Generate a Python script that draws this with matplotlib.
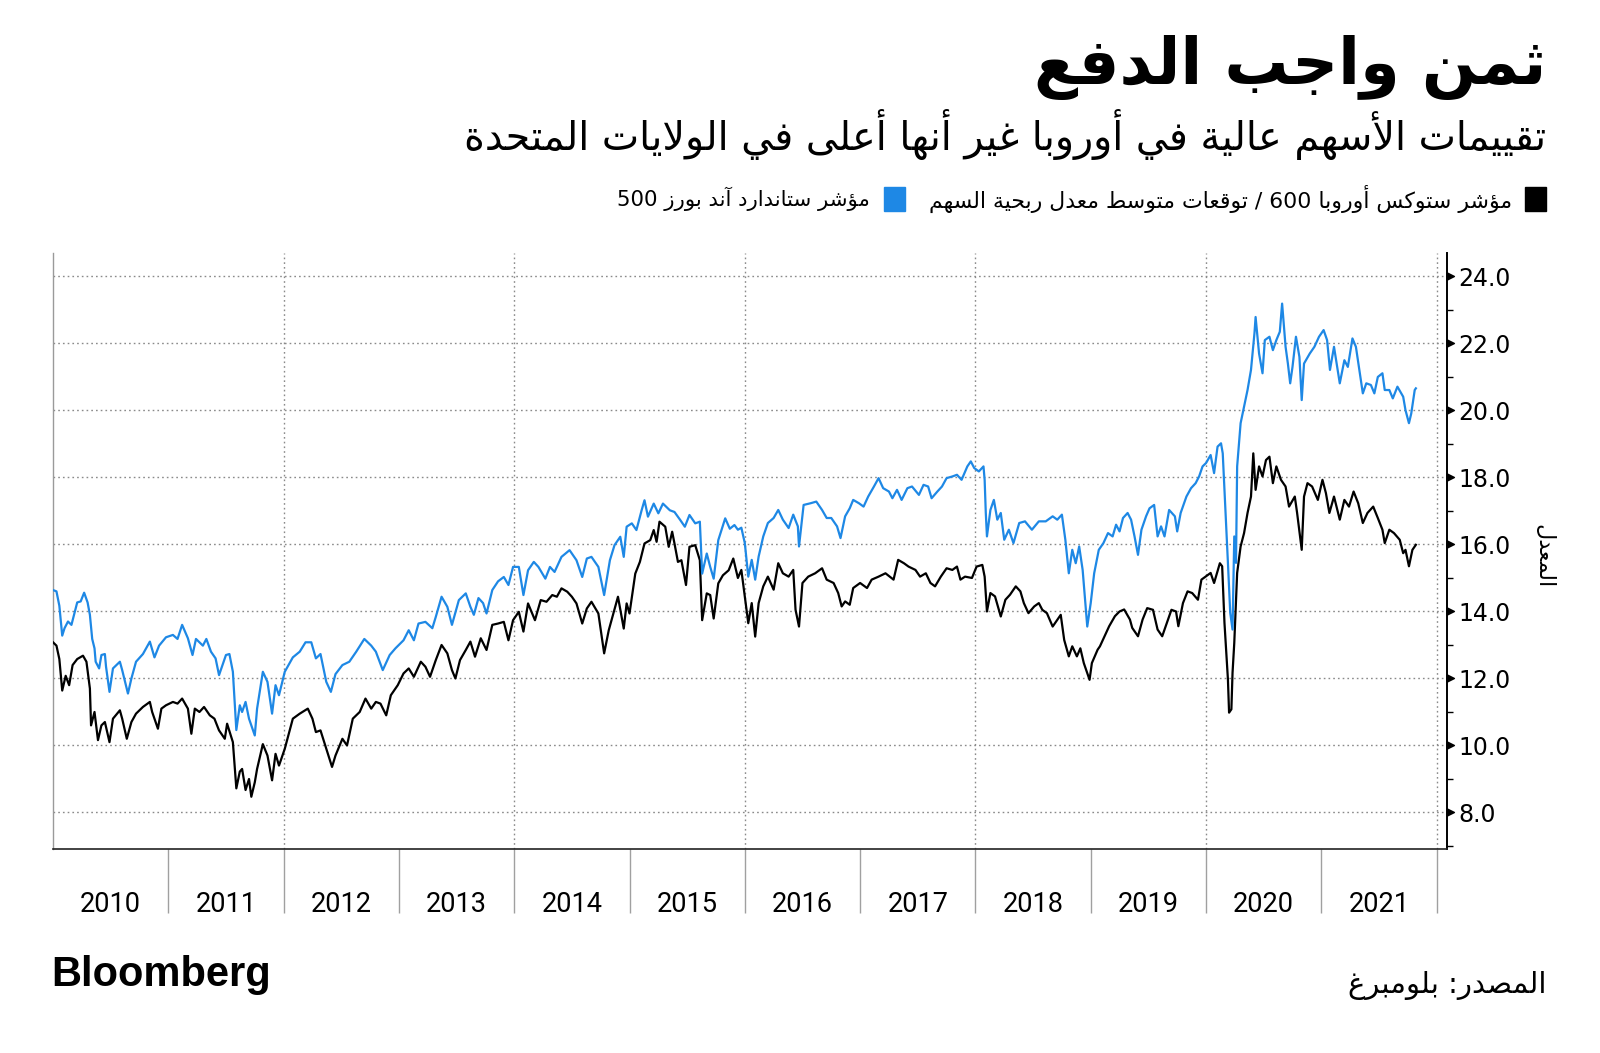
import re
import matplotlib
matplotlib.use("Agg")
import matplotlib.pyplot as plt
from matplotlib import font_manager
from matplotlib.patches import Rectangle
from matplotlib.path import Path
from matplotlib.ticker import MultipleLocator

# ---- data ----
spx_years = [
    2010.00, 2010.03, 2010.055, 2010.08, 2010.10, 2010.13, 2010.16, 2010.19, 2010.21, 2010.24,
    2010.27, 2010.30, 2010.32, 2010.34, 2010.36, 2010.37, 2010.40, 2010.42, 2010.45, 2010.46,
    2010.49, 2010.52, 2010.55, 2010.58, 2010.60, 2010.65, 2010.68, 2010.72, 2010.78, 2010.84,
    2010.88, 2010.92, 2010.98, 2011.04, 2011.08, 2011.12, 2011.17, 2011.21, 2011.24, 2011.30,
    2011.33, 2011.37, 2011.41, 2011.44, 2011.47, 2011.50, 2011.53, 2011.56, 2011.59, 2011.62,
    2011.64, 2011.67, 2011.70, 2011.75, 2011.77, 2011.82, 2011.86, 2011.90, 2011.93, 2011.96,
    2012.01, 2012.08, 2012.14, 2012.19, 2012.24, 2012.28, 2012.32, 2012.37, 2012.41, 2012.45,
    2012.51, 2012.57, 2012.63, 2012.70, 2012.76, 2012.80, 2012.86, 2012.92, 2012.97, 2013.04,
    2013.085, 2013.13, 2013.17, 2013.23, 2013.29, 2013.32, 2013.37, 2013.42, 2013.46, 2013.52,
    2013.58, 2013.62, 2013.65, 2013.69, 2013.73, 2013.76, 2013.81, 2013.86, 2013.91, 2013.95,
    2013.99, 2014.04, 2014.08, 2014.12, 2014.17, 2014.21, 2014.27, 2014.31, 2014.35, 2014.41,
    2014.48, 2014.54, 2014.59, 2014.63, 2014.67, 2014.73, 2014.78, 2014.83, 2014.87, 2014.92,
    2014.95, 2014.975, 2015.02, 2015.06, 2015.105, 2015.13, 2015.16, 2015.21, 2015.25, 2015.29,
    2015.35, 2015.39, 2015.44, 2015.48, 2015.52, 2015.57, 2015.61, 2015.63, 2015.67, 2015.70,
    2015.73, 2015.77, 2015.83, 2015.87, 2015.91, 2015.94, 2015.97, 2016.00, 2016.03, 2016.06,
    2016.09, 2016.12, 2016.16, 2016.20, 2016.25, 2016.29, 2016.33, 2016.38, 2016.42, 2016.46,
    2016.47, 2016.51, 2016.57, 2016.62, 2016.67, 2016.71, 2016.75, 2016.80, 2016.83, 2016.87,
    2016.91, 2016.94, 2016.99, 2017.03, 2017.07, 2017.12, 2017.16, 2017.20, 2017.25, 2017.28,
    2017.32, 2017.36, 2017.41, 2017.45, 2017.51, 2017.55, 2017.59, 2017.62, 2017.67, 2017.71,
    2017.75, 2017.80, 2017.84, 2017.88, 2017.93, 2017.96, 2017.99, 2018.03, 2018.07, 2018.08,
    2018.09, 2018.10, 2018.13, 2018.16, 2018.19, 2018.22, 2018.25, 2018.29, 2018.33, 2018.38,
    2018.43, 2018.49, 2018.55, 2018.61, 2018.67, 2018.71, 2018.75, 2018.78, 2018.81, 2018.84,
    2018.87, 2018.90, 2018.93, 2018.97, 2019.00, 2019.03, 2019.07, 2019.11, 2019.15, 2019.19,
    2019.22, 2019.25, 2019.28, 2019.32, 2019.35, 2019.38, 2019.41, 2019.44, 2019.48, 2019.51,
    2019.55, 2019.58, 2019.61, 2019.64, 2019.68, 2019.73, 2019.75, 2019.78, 2019.83, 2019.87,
    2019.91, 2019.94, 2019.97, 2020.00, 2020.04, 2020.07, 2020.10, 2020.13, 2020.145, 2020.17,
    2020.19, 2020.21, 2020.23, 2020.245, 2020.26, 2020.27, 2020.30, 2020.33, 2020.36, 2020.39,
    2020.42, 2020.43, 2020.46, 2020.49, 2020.51, 2020.55, 2020.58, 2020.61, 2020.64, 2020.66,
    2020.69, 2020.71, 2020.73, 2020.75, 2020.78, 2020.81, 2020.83, 2020.85, 2020.90, 2020.94,
    2020.98, 2021.02, 2021.05, 2021.075, 2021.11, 2021.16, 2021.20, 2021.23, 2021.27, 2021.30,
    2021.33, 2021.36, 2021.39, 2021.43, 2021.46, 2021.49, 2021.53, 2021.55, 2021.59, 2021.62,
    2021.66, 2021.71, 2021.73, 2021.76, 2021.78, 2021.81, 2021.82,
]
spx_pe = [
    14.64, 14.60, 14.17, 13.28, 13.50, 13.70, 13.60, 14.00, 14.27, 14.30,
    14.56, 14.27, 13.90, 13.18, 12.90, 12.50, 12.30, 12.70, 12.73, 12.35,
    11.60, 12.30, 12.40, 12.50, 12.25, 11.55, 12.00, 12.50, 12.73, 13.10,
    12.63, 12.98, 13.23, 13.30, 13.18, 13.60, 13.20, 12.70, 13.18, 12.98,
    13.18, 12.80, 12.60, 12.10, 12.40, 12.70, 12.73, 12.20, 10.46, 11.20,
    11.00, 11.30, 10.80, 10.30, 11.10, 12.20, 11.90, 10.95, 11.80, 11.50,
    12.20, 12.63, 12.80, 13.08, 13.08, 12.60, 12.73, 11.90, 11.60, 12.13,
    12.40, 12.50, 12.80, 13.18, 12.98, 12.80, 12.25, 12.70, 12.90, 13.14,
    13.44, 13.14, 13.64, 13.69, 13.50, 13.84, 14.44, 14.14, 13.60, 14.34,
    14.54, 14.14, 13.90, 14.40, 14.25, 13.94, 14.64, 14.90, 15.03, 14.79,
    15.33, 15.33, 14.49, 15.23, 15.48, 15.33, 14.98, 15.33, 15.18, 15.63,
    15.83, 15.53, 15.03, 15.58, 15.63, 15.33, 14.49, 15.53, 15.98, 16.23,
    15.63, 16.53, 16.63, 16.43, 17.02, 17.32, 16.83, 17.22, 16.93, 17.22,
    17.02, 16.97, 16.73, 16.53, 16.88, 16.63, 16.68, 15.13, 15.73, 15.33,
    14.98, 16.13, 16.78, 16.47, 16.58, 16.44, 16.50, 16.04, 15.04, 15.54,
    14.95, 15.64, 16.24, 16.64, 16.79, 17.03, 16.74, 16.49, 16.89, 16.54,
    15.94, 17.18, 17.23, 17.28, 17.03, 16.79, 16.79, 16.54, 16.19, 16.84,
    17.08, 17.33, 17.23, 17.13, 17.43, 17.73, 17.98, 17.68, 17.58, 17.38,
    17.63, 17.33, 17.68, 17.73, 17.48, 17.78, 17.73, 17.38, 17.58, 17.73,
    17.98, 18.03, 18.08, 17.93, 18.33, 18.48, 18.28, 18.18, 18.33, 17.93,
    16.94, 16.24, 17.03, 17.33, 16.74, 16.94, 16.14, 16.44, 16.04, 16.64,
    16.69, 16.44, 16.69, 16.69, 16.84, 16.74, 16.89, 16.14, 15.14, 15.84,
    15.44, 15.94, 15.24, 13.55, 14.25, 15.14, 15.84, 16.04, 16.34, 16.24,
    16.59, 16.39, 16.79, 16.94, 16.74, 16.24, 15.69, 16.44, 16.84, 17.08,
    17.18, 16.24, 16.54, 16.24, 17.03, 16.84, 16.39, 16.94, 17.43, 17.68,
    17.83, 18.03, 18.33, 18.43, 18.67, 18.13, 18.92, 19.02, 18.72, 16.94,
    15.45, 13.96, 13.46, 16.24, 15.45, 18.33, 19.62, 20.11, 20.61, 21.21,
    22.30, 22.79, 21.70, 21.11, 22.10, 22.20, 21.80, 22.10, 22.35, 23.19,
    21.90, 21.40, 20.81, 21.30, 22.20, 21.60, 20.31, 21.40, 21.70, 21.90,
    22.20, 22.40, 22.10, 21.21, 21.90, 20.81, 21.50, 21.30, 22.15, 21.90,
    21.21, 20.51, 20.81, 20.76, 20.51, 21.00, 21.11, 20.61, 20.61, 20.36,
    20.71, 20.41, 20.01, 19.62, 19.91, 20.61, 20.66,
]

stoxx_years = [
    2010.00, 2010.03, 2010.055, 2010.08, 2010.11, 2010.14, 2010.17, 2010.21, 2010.26, 2010.29,
    2010.32, 2010.33, 2010.36, 2010.39, 2010.42, 2010.45, 2010.49, 2010.52, 2010.58, 2010.60,
    2010.64, 2010.68, 2010.72, 2010.78, 2010.84, 2010.86, 2010.91, 2010.94, 2010.98, 2011.04,
    2011.08, 2011.12, 2011.17, 2011.20, 2011.23, 2011.27, 2011.31, 2011.36, 2011.40, 2011.44,
    2011.49, 2011.51, 2011.56, 2011.59, 2011.62, 2011.64, 2011.67, 2011.70, 2011.72, 2011.75,
    2011.77, 2011.82, 2011.86, 2011.90, 2011.93, 2011.96, 2012.01, 2012.08, 2012.14, 2012.21,
    2012.25, 2012.28, 2012.32, 2012.37, 2012.42, 2012.45, 2012.51, 2012.55, 2012.60, 2012.66,
    2012.71, 2012.76, 2012.80, 2012.84, 2012.89, 2012.93, 2012.99, 2013.04, 2013.085, 2013.13,
    2013.19, 2013.23, 2013.27, 2013.32, 2013.37, 2013.42, 2013.46, 2013.49, 2013.53, 2013.58,
    2013.62, 2013.66, 2013.71, 2013.76, 2013.81, 2013.86, 2013.91, 2013.95, 2013.99, 2014.04,
    2014.08, 2014.12, 2014.18, 2014.23, 2014.28, 2014.33, 2014.37, 2014.41, 2014.46, 2014.50,
    2014.54, 2014.59, 2014.63, 2014.67, 2014.73, 2014.78, 2014.82, 2014.86, 2014.90, 2014.95,
    2014.975, 2015.00, 2015.05, 2015.09, 2015.13, 2015.18, 2015.21, 2015.235, 2015.26, 2015.31,
    2015.34, 2015.37, 2015.39, 2015.42, 2015.45, 2015.49, 2015.52, 2015.57, 2015.61, 2015.63,
    2015.67, 2015.70, 2015.73, 2015.77, 2015.81, 2015.86, 2015.90, 2015.94, 2015.97, 2016.00,
    2016.03, 2016.06, 2016.09, 2016.12, 2016.16, 2016.20, 2016.25, 2016.29, 2016.33, 2016.38,
    2016.42, 2016.44, 2016.47, 2016.50, 2016.55, 2016.61, 2016.67, 2016.71, 2016.77, 2016.81,
    2016.84, 2016.87, 2016.91, 2016.94, 2017.00, 2017.06, 2017.10, 2017.16, 2017.22, 2017.29,
    2017.33, 2017.38, 2017.42, 2017.48, 2017.52, 2017.57, 2017.61, 2017.65, 2017.70, 2017.75,
    2017.80, 2017.84, 2017.87, 2017.91, 2017.97, 2018.01, 2018.06, 2018.08, 2018.10, 2018.13,
    2018.17, 2018.22, 2018.26, 2018.30, 2018.35, 2018.39, 2018.42, 2018.46, 2018.51, 2018.55,
    2018.58, 2018.62, 2018.67, 2018.71, 2018.74, 2018.77, 2018.81, 2018.84, 2018.88, 2018.91,
    2018.94, 2018.99, 2019.01, 2019.06, 2019.08, 2019.12, 2019.16, 2019.21, 2019.25, 2019.29,
    2019.34, 2019.36, 2019.41, 2019.45, 2019.49, 2019.54, 2019.58, 2019.62, 2019.65, 2019.70,
    2019.74, 2019.76, 2019.80, 2019.84, 2019.88, 2019.93, 2019.96, 2020.00, 2020.04, 2020.07,
    2020.12, 2020.14, 2020.16, 2020.19, 2020.20, 2020.22, 2020.23, 2020.245, 2020.27, 2020.30,
    2020.33, 2020.36, 2020.39, 2020.41, 2020.43, 2020.46, 2020.49, 2020.52, 2020.55, 2020.58,
    2020.61, 2020.65, 2020.69, 2020.72, 2020.77, 2020.79, 2020.83, 2020.85, 2020.88, 2020.92,
    2020.97, 2021.01, 2021.04, 2021.07, 2021.11, 2021.16, 2021.20, 2021.24, 2021.28, 2021.32,
    2021.36, 2021.40, 2021.45, 2021.49, 2021.53, 2021.55, 2021.59, 2021.63, 2021.68, 2021.71,
    2021.73, 2021.76, 2021.79, 2021.82,
]
stoxx_pe = [
    13.08, 12.98, 12.58, 11.64, 12.08, 11.80, 12.40, 12.58, 12.68, 12.50,
    11.70, 10.60, 11.00, 10.16, 10.60, 10.70, 10.10, 10.80, 11.05, 10.80,
    10.20, 10.70, 10.95, 11.15, 11.30, 11.00, 10.50, 11.10, 11.20, 11.30,
    11.25, 11.40, 11.10, 10.35, 11.10, 11.00, 11.15, 10.90, 10.80, 10.45,
    10.20, 10.65, 10.10, 8.72, 9.22, 9.30, 8.67, 9.00, 8.47, 8.90,
    9.30, 10.04, 9.70, 8.96, 9.75, 9.40, 9.90, 10.80, 10.95, 11.10,
    10.80, 10.40, 10.45, 9.90, 9.36, 9.70, 10.20, 10.00, 10.80, 11.00,
    11.40, 11.10, 11.30, 11.25, 10.90, 11.50, 11.80, 12.15, 12.30, 12.05,
    12.50, 12.35, 12.05, 12.55, 13.00, 12.75, 12.25, 12.00, 12.55, 12.85,
    13.10, 12.65, 13.20, 12.85, 13.60, 13.64, 13.69, 13.14, 13.74, 13.99,
    13.40, 14.24, 13.74, 14.34, 14.29, 14.49, 14.44, 14.69, 14.59, 14.44,
    14.24, 13.64, 14.09, 14.29, 13.94, 12.75, 13.44, 13.94, 14.44, 13.49,
    14.24, 13.94, 15.13, 15.48, 16.03, 16.13, 16.43, 16.08, 16.68, 16.53,
    15.93, 16.38, 16.03, 15.48, 15.53, 14.79, 15.93, 15.98, 15.53, 13.74,
    14.54, 14.49, 13.79, 14.84, 15.08, 15.23, 15.58, 15.00, 15.24, 14.45,
    13.65, 14.25, 13.25, 14.25, 14.75, 15.04, 14.65, 15.44, 15.14, 15.04,
    15.24, 14.05, 13.55, 14.85, 15.04, 15.14, 15.29, 14.95, 14.85, 14.55,
    14.15, 14.30, 14.20, 14.70, 14.85, 14.70, 14.95, 15.04, 15.14, 14.95,
    15.54, 15.44, 15.34, 15.24, 15.04, 15.14, 14.85, 14.75, 15.04, 15.29,
    15.24, 15.34, 14.95, 15.04, 15.00, 15.34, 15.39, 15.04, 14.00, 14.55,
    14.45, 13.85, 14.35, 14.50, 14.75, 14.60, 14.25, 13.95, 14.15, 14.25,
    14.05, 13.95, 13.55, 13.75, 13.90, 13.15, 12.66, 12.96, 12.66, 12.90,
    12.46, 11.96, 12.46, 12.86, 12.96, 13.26, 13.56, 13.86, 14.00, 14.06,
    13.76, 13.51, 13.26, 13.76, 14.10, 14.05, 13.46, 13.26, 13.56, 14.05,
    14.00, 13.56, 14.25, 14.60, 14.55, 14.35, 14.95, 15.05, 15.15, 14.85,
    15.44, 15.35, 13.66, 11.97, 10.98, 11.08, 12.17, 13.06, 15.15, 15.94,
    16.34, 16.94, 17.43, 18.72, 17.63, 18.33, 18.03, 18.52, 18.62, 17.83,
    18.33, 17.93, 17.73, 17.13, 17.43, 16.94, 15.84, 17.43, 17.83, 17.73,
    17.33, 17.93, 17.53, 16.94, 17.43, 16.74, 17.33, 17.13, 17.58, 17.23,
    16.64, 16.94, 17.13, 16.79, 16.44, 16.04, 16.44, 16.34, 16.14, 15.74,
    15.84, 15.35, 15.84, 15.99,
]

year_labels = [str(y) for y in range(2010, 2022)]

title = "ثمن واجب الدفع"
subtitle = "تقييمات الأسهم عالية في أوروبا غير أنها أعلى في الولايات المتحدة"
stoxx_label = "مؤشر ستوكس أوروبا 600 / توقعات متوسط معدل ربحية السهم"
spx_label = "مؤشر ستاندارد آند بورز 500"
y_label = "المعدل"
source = "المصدر: بلومبرغ"

BLUE = "#1e88e5"

# ---- minimal Arabic shaping (matplotlib does no shaping / bidi) ----
LETTERS = "ءآأؤإئابةتثجحخدذرزسشصضطظعغفقكلمنهوىي"
COUNTS = [1, 2, 2, 2, 2, 4, 2, 4, 2, 4, 4, 4, 4, 4, 2, 2, 2, 2, 4, 4,
          4, 4, 4, 4, 4, 4, 4, 4, 4, 4, 4, 4, 4, 2, 2, 4]
FORMS = {}
cp = 0xFE80
for ch, n in zip(LETTERS, COUNTS):
    FORMS[ch] = [chr(cp + k) for k in range(n)]
    cp += n
LAM_ALEF = {"آ": 0xFEF5, "أ": 0xFEF7, "إ": 0xFEF9, "ا": 0xFEFB}


def dual(ch):
    return ch in FORMS and len(FORMS[ch]) == 4


def joins(ch):
    return ch in FORMS and len(FORMS[ch]) > 1


def ar(text):
    out = []
    i = 0
    n = len(text)
    while i < n:
        c = text[i]
        prev = text[i - 1] if i > 0 else ""
        jp = dual(prev) and joins(c)
        if c == "ل" and i + 1 < n and text[i + 1] in LAM_ALEF:
            out.append(chr(LAM_ALEF[text[i + 1]] + (1 if jp else 0)))
            i += 2
            continue
        if c not in FORMS:
            out.append(c)
            i += 1
            continue
        nxt = text[i + 1] if i + 1 < n else ""
        jn = dual(c) and joins(nxt)
        f = FORMS[c]
        if jp and jn:
            g = f[3]
        elif jp:
            g = f[1]
        elif jn:
            g = f[2]
        else:
            g = f[0]
        out.append(g)
        i += 1
    s = "".join(out)[::-1]
    return re.sub(r"[0-9A-Za-z.]+", lambda m: m.group(0)[::-1], s)


names = {f.name for f in font_manager.fontManager.ttflist}
narrow = "Liberation Sans Narrow" if "Liberation Sans Narrow" in names else "Roboto"
AR_FONT = ["DejaVu Sans"]

# ---- figure ----
W, H = 1600, 1053
fig = plt.figure(figsize=(16, 10.53), dpi=100)
fig.patch.set_facecolor("white")


def fx(px):
    return px / W


def fy(py):
    return 1 - py / H


ax = fig.add_axes([fx(53), fy(849), fx(1447) - fx(53), fy(253) - fy(849)])

ax.plot(stoxx_years, stoxx_pe, color="black", lw=1.6, zorder=3)
ax.plot(spx_years, spx_pe, color=BLUE, lw=1.6, zorder=3)

ax.set_xlim(2010, 2022.09)
ax.set_ylim(6.91, 24.7)

# spines
ax.spines["top"].set_visible(False)
ax.spines["left"].set_color("#9a9a9a")
ax.spines["left"].set_linewidth(1.0)
ax.spines["bottom"].set_color("#222222")
ax.spines["bottom"].set_linewidth(1.2)
ax.spines["right"].set_color("black")
ax.spines["right"].set_linewidth(1.4)

# y axis on the right
ax.yaxis.tick_right()
ax.yaxis.set_major_locator(MultipleLocator(2))
ax.yaxis.set_minor_locator(MultipleLocator(1))
ax.yaxis.set_major_formatter(lambda v, p: f"{v:.1f}")
ax.tick_params(axis="y", which="major", length=0, pad=8, labelsize=17,
               labelcolor="black", left=False)
ax.tick_params(axis="y", which="minor", length=4.5, width=1.0, color="black",
               direction="out", left=False, right=True)
for lab in ax.get_yticklabels():
    lab.set_fontfamily("DejaVu Sans")

# triangle markers on the major ticks
tri = Path([(0, -0.5), (1, 0), (0, 0.5), (0, -0.5)],
           [Path.MOVETO, Path.LINETO, Path.LINETO, Path.CLOSEPOLY])
majors = [v for v in range(8, 25, 2)]
ax.plot([1] * len(majors), majors, ls="none", marker=tri, markersize=10,
        color="black", transform=ax.get_yaxis_transform(), clip_on=False, zorder=5)

# horizontal dotted grid
ax.yaxis.grid(True, which="major", color="#8a8a8a", lw=1.0, ls=(0, (1.2, 2.2)))
# vertical dotted grid every two years
for yr in range(2012, 2023, 2):
    ax.axvline(yr, color="#8a8a8a", lw=1.0, ls=(0, (1.2, 2.2)), zorder=1)

# x axis: year labels in the middle, separators at the year boundaries
ax.set_xticks([y + 0.5 for y in range(2010, 2022)])
ax.set_xticklabels(year_labels, fontfamily=narrow, fontsize=23 if narrow != "Roboto" else 19.5)
ax.set_xticks(list(range(2011, 2023)), minor=True)
ax.tick_params(axis="x", which="major", length=0, pad=30)
ax.tick_params(axis="x", which="minor", length=46, width=1.0, color="#a0a0a0",
               direction="out")

# ---- texts ----
fig.text(fx(1546), fy(68), ar(title), ha="right", va="center",
         fontsize=46, fontweight="bold", family=AR_FONT)
fig.text(fx(1546), fy(134), ar(subtitle), ha="right", va="center",
         fontsize=28.5, family=AR_FONT)

fig.add_artist(Rectangle((fx(1525), fy(211)), fx(21), fy(187) - fy(211),
                         transform=fig.transFigure, color="black"))
fig.text(fx(1512), fy(199), ar(stoxx_label), ha="right", va="center",
         fontsize=15.8, family=AR_FONT)
fig.add_artist(Rectangle((fx(884), fy(211)), fx(21), fy(187) - fy(211),
                         transform=fig.transFigure, color=BLUE))
fig.text(fx(870), fy(199), ar(spx_label), ha="right", va="center",
         fontsize=15.3, family=AR_FONT)

fig.text(fx(1543), fy(556), ar(y_label), ha="center", va="center",
         rotation=270, fontsize=16, family=AR_FONT)

fig.text(fx(51), fy(975), "Bloomberg", ha="left", va="center",
         fontsize=30, fontweight="bold", family=["Liberation Sans", "DejaVu Sans"])
fig.text(fx(1546), fy(985), ar(source), ha="right", va="center",
         fontsize=21, family=AR_FONT)

fig.savefig("out.png", dpi=100, facecolor="white")
